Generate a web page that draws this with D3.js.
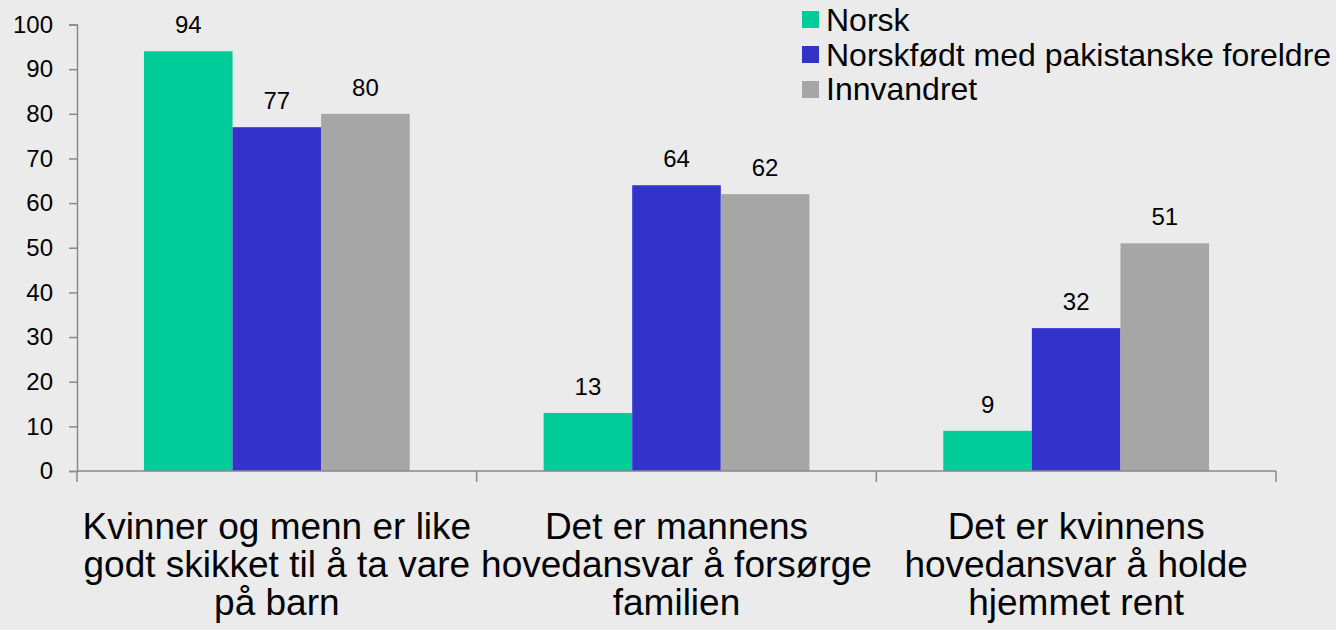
<!DOCTYPE html>
<html>
<head>
<meta charset="utf-8">
<script src="https://cdn.jsdelivr.net/npm/d3@7"></script>
<style>
  body { margin: 0; background: #ebebeb; }
  svg { display: block; font-family: Arial, "Liberation Sans", sans-serif; }
  .axis path, .axis line { stroke: #898989; stroke-width: 1.5; }
</style>
</head>
<body>
<svg id="chart" width="1336" height="630"></svg>
<script>
var categories = [
  ["Kvinner og menn er like", "godt skikket til å ta vare", "på barn"],
  ["Det er mannens", "hovedansvar å forsørge", "familien"],
  ["Det er kvinnens", "hovedansvar å holde", "hjemmet rent"]
];
var series = ["Norsk", "Norskfødt med pakistanske foreldre", "Innvandret"];
var colors = ["#00cc99", "#3333cc", "#a6a6a6"];
var norsk = [94, 13, 9];
var norskfodt = [77, 64, 32];
var innvandret = [80, 62, 51];
var yTicks = [0, 10, 20, 30, 40, 50, 60, 70, 80, 90, 100];

var values = [norsk, norskfodt, innvandret];
var svg = d3.select("#chart");

var plotLeft = 77, plotRight = 1276, plotTop = 24.5, plotBottom = 471;

var x0 = d3.scaleBand()
  .domain(d3.range(categories.length))
  .range([plotLeft, plotRight]);
var bw = x0.bandwidth();
var x1 = d3.scaleBand()
  .domain(d3.range(series.length))
  .range([bw * 0.1675, bw * 0.8325]);
var y = d3.scaleLinear().domain([0, 100]).range([plotBottom, plotTop]);

// bars
for (var s = 0; s < series.length; s++) {
  svg.append("g")
    .selectAll("rect")
    .data(values[s])
    .join("rect")
    .attr("x", function(d, i) { return x0(i) + x1(s); })
    .attr("y", function(d) { return y(d); })
    .attr("width", x1.bandwidth())
    .attr("height", function(d) { return y(0) - y(d); })
    .attr("fill", colors[s]);

  svg.append("g")
    .selectAll("text")
    .data(values[s])
    .join("text")
    .attr("x", function(d, i) { return x0(i) + x1(s) + x1.bandwidth() / 2; })
    .attr("y", function(d) { return y(d) - 18; })
    .attr("text-anchor", "middle")
    .attr("font-size", 24)
    .attr("fill", "#000")
    .text(function(d) { return d; });
}

// y axis
var yAxis = svg.append("g")
  .attr("class", "axis")
  .attr("transform", "translate(" + plotLeft + ",0)")
  .call(d3.axisLeft(y).tickValues(yTicks).tickSize(8).tickSizeOuter(8).tickPadding(16));
yAxis.selectAll("text")
  .attr("font-size", 24)
  .attr("font-family", "Arial, 'Liberation Sans', sans-serif")
  .attr("fill", "#000");

// x axis
var xAxis = svg.append("g")
  .attr("class", "axis")
  .attr("transform", "translate(0," + plotBottom + ")");
xAxis.append("line")
  .attr("x1", plotLeft).attr("x2", plotRight)
  .attr("y1", 0).attr("y2", 0);
xAxis.selectAll("line.tick")
  .data(d3.range(categories.length + 1))
  .join("line")
  .attr("class", "tick")
  .attr("x1", function(i) { return i < categories.length ? x0(i) : plotRight; })
  .attr("x2", function(i) { return i < categories.length ? x0(i) : plotRight; })
  .attr("y1", 0).attr("y2", 11);

// category labels
categories.forEach(function(lines, i) {
  var t = svg.append("text")
    .attr("text-anchor", "middle")
    .attr("font-size", 37)
    .attr("fill", "#000");
  lines.forEach(function(l, k) {
    t.append("tspan")
      .attr("x", x0(i) + bw / 2)
      .attr("y", 539 + k * 38)
      .text(l);
  });
});

// legend
var legend = svg.append("g").attr("transform", "translate(802,0)");
series.forEach(function(name, i) {
  legend.append("rect")
    .attr("x", 0).attr("y", 11 + i * 35)
    .attr("width", 17).attr("height", 17)
    .attr("fill", colors[i]);
  legend.append("text")
    .attr("x", 24).attr("y", 31 + i * 34.7)
    .attr("font-size", 32)
    .attr("fill", "#000")
    .text(name);
});
</script>
</body>
</html>
